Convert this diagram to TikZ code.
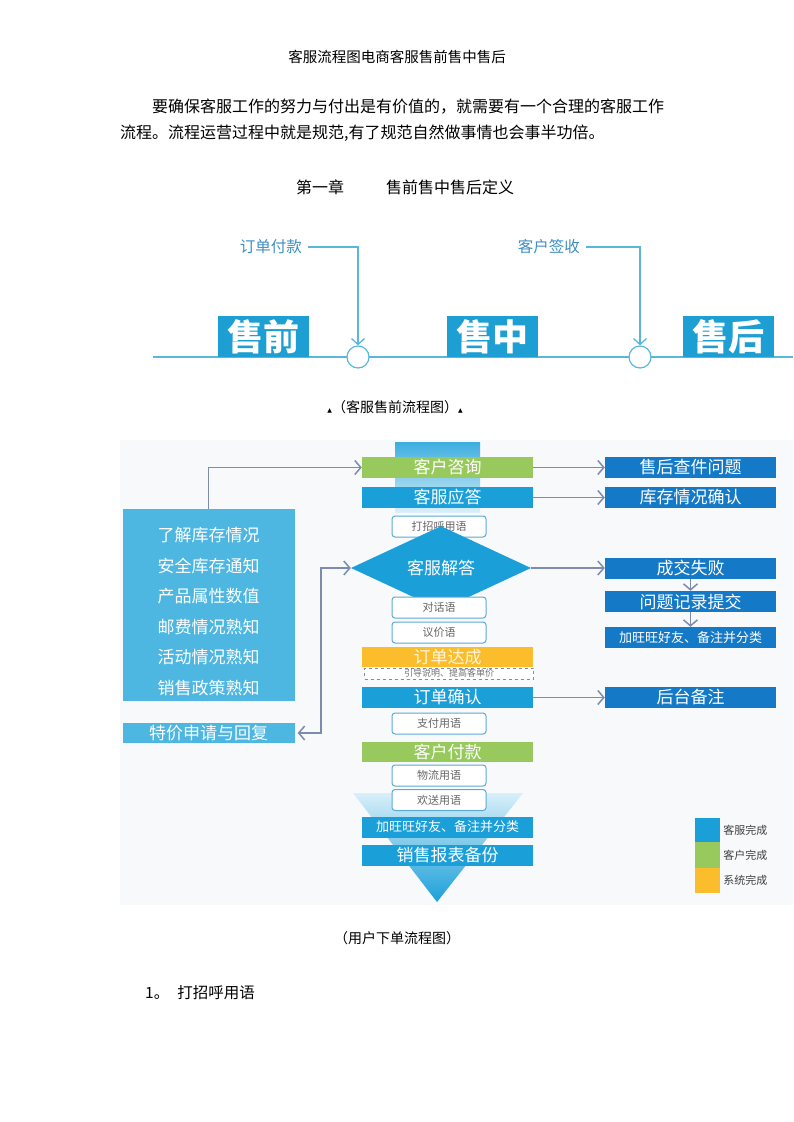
\documentclass[tikz,border=0pt]{standalone}
\usepackage{fontspec}
\setmainfont{Noto Sans CJK SC}
\newfontfamily\symfont{DejaVu Sans}
\usetikzlibrary{arrows.meta,shapes.geometric}

\definecolor{tlblue}{HTML}{1E9FD3}
\definecolor{tlline}{HTML}{5BB7D9}
\definecolor{tllabel}{HTML}{3F8EC2}
\definecolor{cyanbar}{HTML}{1A9FD9}
\definecolor{darkbar}{HTML}{1479C6}
\definecolor{leftbox}{HTML}{4DB6E1}
\definecolor{greenbar}{HTML}{97C95C}
\definecolor{orangebar}{HTML}{FBBD2B}
\definecolor{arrowgray}{HTML}{7C8BAE}
\definecolor{talkline}{HTML}{5CAAD6}
\definecolor{bgfill}{HTML}{F7F9FA}
\definecolor{funtop}{HTML}{D9EFF9}

\tikzset{
  fs/.style={font=\fontsize{#1}{#1}\selectfont},
  txt/.style={inner sep=0pt},
  stage/.style={fill=tlblue,text=white,minimum width=91pt,minimum height=41pt,inner sep=0pt,font=\fontsize{36}{36}\selectfont\bfseries},
  bar/.style={minimum width=171pt,minimum height=21pt,inner sep=0pt,text=white,fs=17},
  rbar/.style={bar,fill=darkbar},
  talk/.style={draw=talkline,fill=white,rounded corners=3pt,line width=1pt,minimum width=94pt,minimum height=21pt,inner sep=0pt,text=black!60,fs=11},
  flow/.style={draw=arrowgray,line width=1.5pt,-{Straight Barb[length=6pt,width=14pt]}},
  tlarrow/.style={draw=tlline,line width=1.3pt,-{Straight Barb[length=6pt,width=13pt]}},
}

\begin{document}
\begin{tikzpicture}[x=1pt,y=-1pt]
\useasboundingbox (0,0) rectangle (793,1122);

% heading
\node[txt,fs=14.5] (title) at (397,57) {客服流程图电商客服售前售中售后};
\node[txt,fs=16,anchor=west] (para1) at (152,107) {要确保客服工作的努力与付出是有价值的，就需要有一个合理的客服工作};
\node[txt,fs=16,anchor=west] (para2) at (120,133) {流程。流程运营过程中就是规范,有了规范自然做事情也会事半功倍。};
\node[txt,fs=16] (chap) at (320,187) {第一章};
\node[txt,fs=16] (chapname) at (450,187) {售前售中售后定义};

% timeline
\draw[tlline,line width=1.2pt] (153,357) -- (793,357);
\node[stage] (pre) at (263.5,336.5) {售前};
\node[stage] (mid) at (492,336.5) {售中};
\node[stage] (post) at (728,336.5) {售后};
\node[circle,draw=tlline,fill=white,line width=1.2pt,minimum size=22pt,inner sep=0pt] (pay) at (358,357) {};
\node[circle,draw=tlline,fill=white,line width=1.2pt,minimum size=22pt,inner sep=0pt] (sign) at (640,357) {};
\node[txt,fs=15.5,text=tllabel,anchor=east] (paylabel) at (302,247) {订单付款};
\node[txt,fs=15.5,text=tllabel,anchor=east] (signlabel) at (580,247) {客户签收};
\draw[tlarrow] ([xshift=6pt]paylabel.east) -| (pay.north);
\draw[tlarrow] ([xshift=6pt]signlabel.east) -| (sign.north);

\node[txt,fs=14] (cap1) at (395,407) {{\symfont\fontsize{6}{6}\selectfont ▲}（客服售前流程图）{\symfont\fontsize{6}{6}\selectfont ▲}};

% flow chart
\fill[bgfill] (120,440) rectangle (793,905);
\shade[top color=cyanbar!85,bottom color=funtop] (395,442) rectangle (480,512);
\shade[top color=funtop,bottom color=cyanbar] (353,793) -- (523,793) -- (437,902) -- cycle;

\node[bar,fill=greenbar] (ask) at (447.5,467.5) {客户咨询};
\node[bar,fill=cyanbar] (reply) at (447.5,497.5) {客服应答};
\node[talk] (hello) at (439,526.5) {打招呼用语};
\node[diamond,fill=cyanbar,minimum width=180pt,minimum height=46pt,inner sep=0pt,text=white,fs=17] (answer) at (441,568) {客服解答};
\node[talk] (chat) at (439,607.5) {对话语};
\node[talk] (bargain) at (439,632.5) {议价语};
\node[bar,fill=orangebar,minimum height=20pt,text=white!85!orangebar] (deal) at (447.5,657) {订单达成};
\node[draw=arrowgray,dashed,fill=white,minimum width=169pt,minimum height=11pt,inner sep=0pt,fs=9,text=black!55] (guide) at (449,673.5) {引导说明、提高客单价};
\node[bar,fill=cyanbar] (confirm) at (447.5,697.5) {订单确认};
\node[talk] (paytalk) at (439,723.5) {支付用语};
\node[bar,fill=greenbar,minimum height=20pt] (paid) at (447.5,752) {客户付款};
\node[talk] (ship) at (439,775.5) {物流用语};
\node[talk] (bye) at (439,800) {欢送用语};
\node[bar,fill=cyanbar,fs=13] (friend) at (447.5,827) {加旺旺好友、备注并分类};
\node[bar,fill=cyanbar] (report) at (447.5,855) {销售报表备份};

% right side
\node[rbar] (afterq) at (690.5,467.5) {售后查件问题};
\node[rbar] (stock) at (690.5,497.5) {库存情况确认};
\node[rbar] (fail) at (690.5,568) {成交失败};
\node[rbar] (record) at (690.5,601.5) {问题记录提交};
\node[rbar,fs=13] (addfriend) at (690.5,637.5) {加旺旺好友、备注并分类};
\node[rbar] (backnote) at (690.5,697.5) {后台备注};

% left side
\node[fill=leftbox,minimum width=172pt,minimum height=192pt,inner sep=0pt] (know) at (208.5,605) {};
\node[txt,align=center,text=white,font=\fontsize{17}{30.6}\selectfont] (knowtext) at (208.5,611.5) {了解库存情况\\安全库存通知\\产品属性数值\\邮费情况熟知\\活动情况熟知\\销售政策熟知};
\node[fill=leftbox,minimum width=172pt,minimum height=20pt,inner sep=0pt,text=white,fs=17] (special) at (208.5,733) {特价申请与回复};
\coordinate (bend) at (321,733);

\draw[flow] (know.north) |- (ask.west);
\draw[flow] (ask.east) -- (afterq.west);
\draw[flow] (reply.east) -- (stock.west);
\draw[flow] (answer.east) -- (fail.west);
\draw[flow] (fail.south) -- (record.north);
\draw[flow] (record.south) -- (addfriend.north);
\draw[flow] (confirm.east) -- (backnote.west);
\draw[flow,{Straight Barb[length=6pt,width=14pt]}-{Straight Barb[length=6pt,width=14pt]},shorten <=3pt] (special.east) -- (bend) |- (answer.west);

% key
\node[fill=cyanbar,minimum width=25pt,minimum height=24pt,inner sep=0pt] (key1) at (707.5,830) {};
\node[fill=greenbar,minimum width=25pt,minimum height=26pt,inner sep=0pt] (key2) at (707.5,855) {};
\node[fill=orangebar,minimum width=25pt,minimum height=25pt,inner sep=0pt] (key3) at (707.5,880.5) {};
\node[txt,fs=11,text=black!75,anchor=west] (key1text) at ([xshift=3pt]key1.east) {客服完成};
\node[txt,fs=11,text=black!75,anchor=west] (key2text) at ([xshift=3pt]key2.east) {客户完成};
\node[txt,fs=11,text=black!75,anchor=west] (key3text) at ([xshift=3pt]key3.east) {系统完成};

% after
\node[txt,fs=14] (cap2) at (397,938) {（用户下单流程图）};
\node[txt,fs=15.5,anchor=west] (item1) at (145,993) {1。\hspace{8pt}打招呼用语};

\end{tikzpicture}
\end{document}
